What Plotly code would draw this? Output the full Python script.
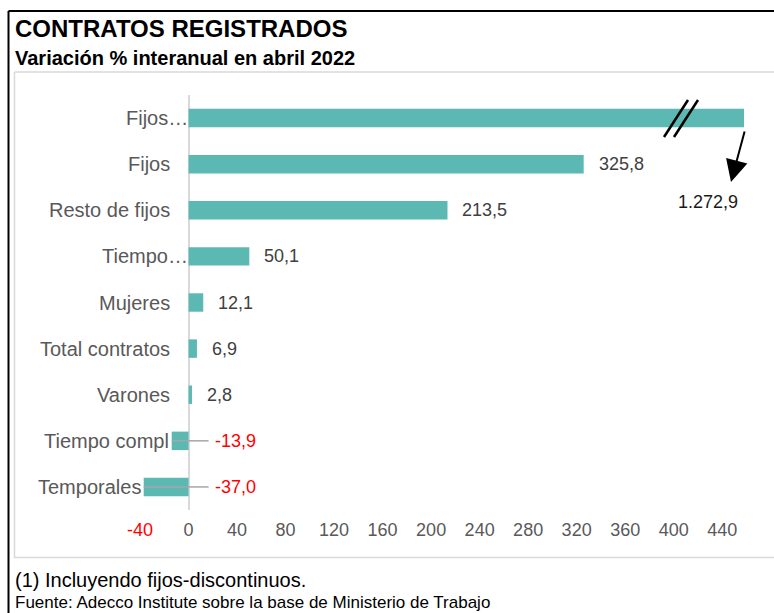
import plotly.graph_objects as go

# ---------------- data ----------------
categories = ["Fijos…", "Fijos", "Resto de fijos", "Tiempo…", "Mujeres",
              "Total contratos", "Varones", "Tiempo compl", "Temporales"]
values = [1272.9, 325.8, 213.5, 50.1, 12.1, 6.9, 2.8, -13.9, -37.0]
tick_values = list(range(-40, 441, 40))

title = "CONTRATOS REGISTRADOS"
subtitle = "Variación % interanual en abril 2022"
note = "(1) Incluyendo fijos-discontinuos."
source = "Fuente: Adecco Institute sobre la base de Ministerio de Trabajo"

# ---------------- style ----------------
W, H = 774, 613
XMIN, XMAX = -45, 458
TEAL = "#5cb8b2"
GRAY_TXT = "#595959"
LABEL_TXT = "#404040"
RED = "#FF0000"
FONT = "Liberation Sans, Arial, sans-serif"


def px(x):
    return x / W


def py(y):
    return 1 - y / H


def fmt_es(v):
    s = f"{abs(v):,.1f}".replace(",", "X").replace(".", ",").replace("X", ".")
    return ("-" if v < 0 else "") + s


tick_text = [f"<span style='color:{RED}'>{t}</span>" if t < 0 else str(t) for t in tick_values]

fig = go.Figure()
fig.add_trace(go.Bar(
    x=values, y=categories, orientation="h",
    marker=dict(color=TEAL, line=dict(width=0)),
    width=0.4, hoverinfo="skip", cliponaxis=True,
))

annotations = []
shapes = []

# category labels (Excel-like placement: truncated labels run up to the axis)
for c, v in zip(categories, values):
    if v < 0:
        shift = -1
    elif c.endswith("…"):
        shift = 1
    else:
        shift = -17
    annotations.append(dict(
        x=min(v, 0), y=c, xref="x", yref="y", text=c, showarrow=False,
        xanchor="right", yanchor="middle", xshift=shift,
        font=dict(family=FONT, size=20, color=GRAY_TXT),
    ))

# data labels
for c, v in zip(categories, values):
    if v > XMAX:
        # broken bar: arrow + label
        annotations.append(dict(
            x=px(731), y=py(182), xref="paper", yref="paper", text="",
            showarrow=True, ax=14, ay=-52, arrowhead=2, arrowsize=2.2,
            arrowwidth=2, arrowcolor="black",
        ))
        annotations.append(dict(
            x=px(708), y=py(202), xref="paper", yref="paper", text=fmt_es(v),
            showarrow=False, xanchor="center", yanchor="middle",
            font=dict(family=FONT, size=18, color="#1a1a1a"),
        ))
        for x0 in (664, 674):
            shapes.append(dict(type="line", xref="paper", yref="paper",
                               x0=px(x0), y0=py(137), x1=px(x0 + 24), y1=py(100),
                               line=dict(color="black", width=2.5), layer="above"))
    elif v >= 0:
        annotations.append(dict(
            x=v, y=c, xref="x", yref="y", text=fmt_es(v), showarrow=False,
            xanchor="left", yanchor="middle", xshift=13,
            font=dict(family=FONT, size=18, color=LABEL_TXT),
        ))
    else:
        annotations.append(dict(
            x=0, y=c, xref="x", yref="y", text=fmt_es(v), showarrow=False,
            xanchor="left", yanchor="middle", xshift=24,
            font=dict(family=FONT, size=18, color=RED),
        ))
        shapes.append(dict(type="line", xref="x", yref="y", x0=v, x1=0, y0=c, y1=c,
                           line=dict(color="#A6A6A6", width=1.5), layer="above"))
        shapes.append(dict(type="line", xref="x", yref="y", xsizemode="pixel", xanchor=0,
                           x0=0, x1=20, y0=c, y1=c,
                           line=dict(color="#A6A6A6", width=1.5), layer="above"))

# frames
shapes += [
    dict(type="line", xref="paper", yref="paper", x0=px(8.5), x1=px(8.5), y0=py(11), y1=py(613),
         line=dict(color="black", width=2)),
    dict(type="line", xref="paper", yref="paper", x0=px(8.5), x1=px(774), y0=py(11), y1=py(11),
         line=dict(color="black", width=2)),
    dict(type="line", xref="paper", yref="paper", x0=px(14.5), x1=px(14.5), y0=py(72), y1=py(558),
         line=dict(color="#D9D9D9", width=1.5)),
    dict(type="line", xref="paper", yref="paper", x0=px(14.5), x1=px(774), y0=py(72), y1=py(72),
         line=dict(color="#D9D9D9", width=1.5)),
    dict(type="line", xref="paper", yref="paper", x0=px(14.5), x1=px(774), y0=py(557.5), y1=py(557.5),
         line=dict(color="#D9D9D9", width=1.5)),
]

# titles and notes
annotations += [
    dict(x=px(13), y=py(29), xref="paper", yref="paper", text=f"<b>{title}</b>", showarrow=False,
         xanchor="left", yanchor="middle", font=dict(family=FONT, size=24, color="black")),
    dict(x=px(13), y=py(58), xref="paper", yref="paper", text=f"<b>{subtitle}</b>", showarrow=False,
         xanchor="left", yanchor="middle", font=dict(family=FONT, size=20, color="black")),
    dict(x=px(13), y=py(580), xref="paper", yref="paper", text=note, showarrow=False,
         xanchor="left", yanchor="middle", font=dict(family=FONT, size=20, color="black")),
    dict(x=px(13), y=py(602), xref="paper", yref="paper", text=source, showarrow=False,
         xanchor="left", yanchor="middle", font=dict(family=FONT, size=17, color="black")),
]

fig.update_layout(
    template="none",
    width=W, height=H, margin=dict(l=0, r=0, t=0, b=0, pad=0, autoexpand=False),
    paper_bgcolor="white", plot_bgcolor="white", showlegend=False,
    annotations=annotations, shapes=shapes,
    xaxis=dict(domain=[px(134), px(744)], range=[XMIN, XMAX], tickvals=tick_values,
               ticktext=tick_text, showgrid=False, zeroline=True, zerolinecolor="#D9D9D9",
               zerolinewidth=2, showline=False, ticks="", automargin=False,
               ticklabelstandoff=7,
               tickfont=dict(family=FONT, size=18, color=GRAY_TXT)),
    yaxis=dict(domain=[py(510), py(95)], categoryorder="array", categoryarray=categories,
               autorange="reversed", showticklabels=False, showgrid=False, zeroline=False,
               showline=False, automargin=False),
)

fig.write_html(
    "out.html",
    config={"responsive": False, "displayModeBar": False},
    post_script="document.body.style.margin='0';document.body.style.overflow='hidden';",
)
